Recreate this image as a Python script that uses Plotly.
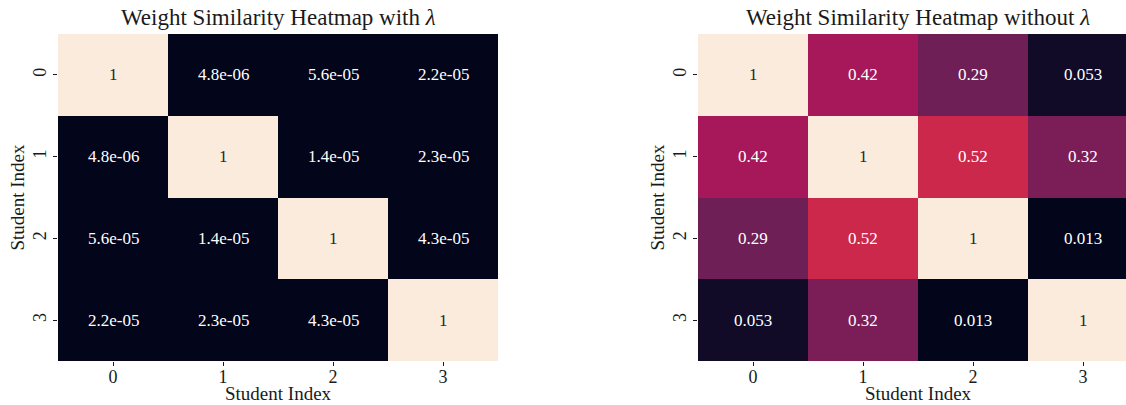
import plotly.graph_objects as go

# Student indices shown on both axes
students = [0, 1, 2, 3]
tick_labels = ["0", "1", "2", "3"]

# Pairwise weight similarity, trained with the lambda penalty
sim_with_lambda = [
    [1.0, 4.8e-06, 5.6e-05, 2.2e-05],
    [4.8e-06, 1.0, 1.4e-05, 2.3e-05],
    [5.6e-05, 1.4e-05, 1.0, 4.3e-05],
    [2.2e-05, 2.3e-05, 4.3e-05, 1.0],
]

# Pairwise weight similarity, trained without the lambda penalty
sim_without_lambda = [
    [1.0, 0.42, 0.29, 0.053],
    [0.42, 1.0, 0.52, 0.32],
    [0.29, 0.52, 1.0, 0.013],
    [0.053, 0.32, 0.013, 1.0],
]

titles = ["Weight Similarity Heatmap with <i>λ</i>",
          "Weight Similarity Heatmap without <i>λ</i>"]
axis_label = "Student Index"

# "rocket" sequential colormap
rocket = [
    [0.0, "#03051a"],
    [0.07, "#1c1031"],
    [1 / 7, "#35193e"],
    [2 / 7, "#701f57"],
    [3 / 7, "#ad1759"],
    [4 / 7, "#e13342"],
    [5 / 7, "#f37651"],
    [6 / 7, "#f6b48f"],
    [1.0, "#faebdd"],
]

W, H = 1126, 405
FONT = "Liberation Serif, DejaVu Serif, serif"
INK = "#1a1a1a"

# panel placement in pixels
left_px = [58, 698]
panel_w = 440
top_px, bottom_px = 34, 361
n = len(students)
unit = panel_w / n

fig = go.Figure()
annotations = []

for k, mat in enumerate([sim_with_lambda, sim_without_lambda]):
    xa = "x" if k == 0 else "x2"
    ya = "y" if k == 0 else "y2"
    flat = [v for row in mat for v in row]
    zmin, zmax = min(flat), max(flat)
    fig.add_trace(go.Heatmap(
        z=mat, x=students, y=students,
        colorscale=rocket, zmin=zmin, zmax=zmax,
        showscale=False, hoverinfo="skip",
        xaxis=xa, yaxis=ya,
    ))
    for i, row in enumerate(mat):
        for j, v in enumerate(row):
            norm = (v - zmin) / (zmax - zmin)
            annotations.append(dict(
                x=students[j], y=students[i], xref=xa, yref=ya,
                text=f"{v:.2g}", showarrow=False,
                font=dict(family=FONT, size=17,
                          color="#262626" if norm > 0.8 else "#ffffff"),
            ))
    x_mid = (students[0] + students[-1]) / 2
    # panel title
    annotations.append(dict(
        x=x_mid, xref=xa, y=1 - 18 / H, yref="paper", yanchor="middle",
        text=titles[k], showarrow=False,
        font=dict(family=FONT, size=23, color=INK),
    ))
    # x-axis label under the tick labels
    annotations.append(dict(
        x=x_mid, xref=xa, y=0, yref="paper", yanchor="bottom",
        borderpad=0,
        text=axis_label, showarrow=False,
        font=dict(family=FONT, size=19, color=INK),
    ))

ydom = [1 - bottom_px / H, 1 - top_px / H]
axis_common = dict(
    tickmode="array", tickvals=students, ticktext=tick_labels,
    ticks="outside", ticklen=4, tickwidth=1, tickcolor=INK,
    showgrid=False, zeroline=False, showline=False,
    tickfont=dict(family=FONT, size=18, color=INK),
)
title_font = dict(family=FONT, size=19, color=INK)

for k in range(2):
    x0 = left_px[k] / W
    x1 = min((left_px[k] + panel_w) / W, 1.0)
    visible_units = (x1 * W - left_px[k]) / unit
    xname = "xaxis" if k == 0 else "xaxis2"
    yname = "yaxis" if k == 0 else "yaxis2"
    fig.update_layout({
        xname: dict(axis_common, domain=[x0, x1],
                    range=[-0.5, -0.5 + visible_units],
                    ticklabelstandoff=-5,
                    anchor="y" if k == 0 else "y2"),
        yname: dict(axis_common, domain=ydom, range=[n - 0.5, -0.5],
                    tickangle=-90,
                    anchor="x" if k == 0 else "x2",
                    title=dict(text=axis_label, font=title_font, standoff=0)),
    })

fig.update_layout(
    width=W, height=H,
    margin=dict(l=0, r=0, t=0, b=0),
    paper_bgcolor="white", plot_bgcolor="white",
    annotations=annotations,
    showlegend=False,
)

fig.write_html("out.html")
